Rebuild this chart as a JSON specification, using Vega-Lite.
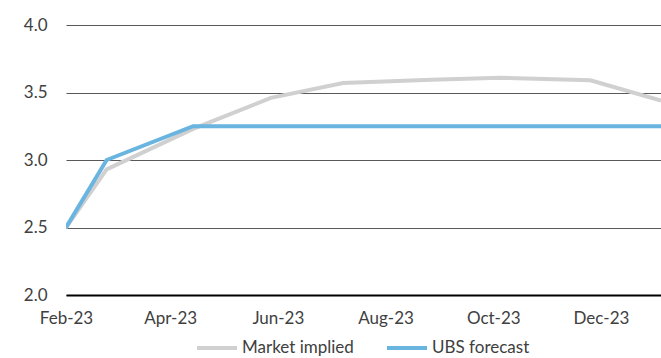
{
  "$schema": "https://vega.github.io/schema/vega-lite/v6.json",
  "width": 595,
  "height": 270,
  "autosize": "none",
  "padding": {"left": 66, "top": 25, "right": 0, "bottom": 63},
  "background": "white",
  "config": {
    "view": {"stroke": null},
    "font": "Lato",
    "axis": {"labelFont": "Lato", "labelFontSize": 17, "labelColor": "#404040"},
    "legend": {"labelFont": "Lato", "labelFontSize": 17, "labelColor": "#404040"}
  },
  "data": {
    "values": [
      {"date": "2023-02-01", "series": "Market implied", "rate": 2.5},
      {"date": "2023-02-24", "series": "Market implied", "rate": 2.93},
      {"date": "2023-04-14", "series": "Market implied", "rate": 3.23},
      {"date": "2023-05-28", "series": "Market implied", "rate": 3.46},
      {"date": "2023-07-08", "series": "Market implied", "rate": 3.57},
      {"date": "2023-08-27", "series": "Market implied", "rate": 3.595},
      {"date": "2023-10-05", "series": "Market implied", "rate": 3.61},
      {"date": "2023-11-25", "series": "Market implied", "rate": 3.59},
      {"date": "2024-01-04", "series": "Market implied", "rate": 3.44},
      {"date": "2023-02-01", "series": "UBS forecast", "rate": 2.5},
      {"date": "2023-02-24", "series": "UBS forecast", "rate": 3.0},
      {"date": "2023-04-14", "series": "UBS forecast", "rate": 3.25},
      {"date": "2023-05-28", "series": "UBS forecast", "rate": 3.25},
      {"date": "2023-07-08", "series": "UBS forecast", "rate": 3.25},
      {"date": "2023-08-27", "series": "UBS forecast", "rate": 3.25},
      {"date": "2023-10-05", "series": "UBS forecast", "rate": 3.25},
      {"date": "2023-11-25", "series": "UBS forecast", "rate": 3.25},
      {"date": "2024-01-04", "series": "UBS forecast", "rate": 3.25}
    ]
  },
  "mark": {"type": "line", "strokeWidth": 4, "clip": true},
  "encoding": {
    "x": {
      "field": "date",
      "type": "temporal",
      "scale": {
        "type": "utc",
        "domain": [
          {"year": 2023, "month": 2, "date": 1, "utc": true},
          {"year": 2024, "month": 1, "date": 4, "utc": true}
        ]
      },
      "axis": {
        "title": null,
        "labelExpr": "utcFormat(datum.value, '%b-%y')",
        "values": [
          {"year": 2023, "month": 2, "date": 1, "utc": true},
          {"year": 2023, "month": 4, "date": 1, "utc": true},
          {"year": 2023, "month": 6, "date": 1, "utc": true},
          {"year": 2023, "month": 8, "date": 1, "utc": true},
          {"year": 2023, "month": 10, "date": 1, "utc": true},
          {"year": 2023, "month": 12, "date": 1, "utc": true}
        ],
        "grid": false,
        "ticks": false,
        "domainColor": "#000000",
        "domainWidth": 2,
        "labelPadding": 15,
        "labelFlush": false,
        "labelOverlap": false
      }
    },
    "y": {
      "field": "rate",
      "type": "quantitative",
      "scale": {"domain": [2, 4], "nice": false, "zero": false},
      "axis": {
        "title": null,
        "values": [2, 2.5, 3, 3.5, 4],
        "format": ".1f",
        "domain": false,
        "ticks": false,
        "grid": true,
        "gridColor": "#595959",
        "gridWidth": 1,
        "labelPadding": 19
      }
    },
    "color": {
      "field": "series",
      "type": "nominal",
      "scale": {
        "domain": ["Market implied", "UBS forecast"],
        "range": ["#d0d0d0", "#6ab4e0"]
      },
      "legend": {
        "title": null,
        "orient": "none",
        "direction": "horizontal",
        "legendX": 129,
        "legendY": 301,
        "symbolType": "stroke",
        "symbolSize": 1600,
        "symbolStrokeWidth": 4,
        "labelOffset": 3,
        "labelFontSize": 17,
        "columnPadding": 25
      }
    }
  }
}
